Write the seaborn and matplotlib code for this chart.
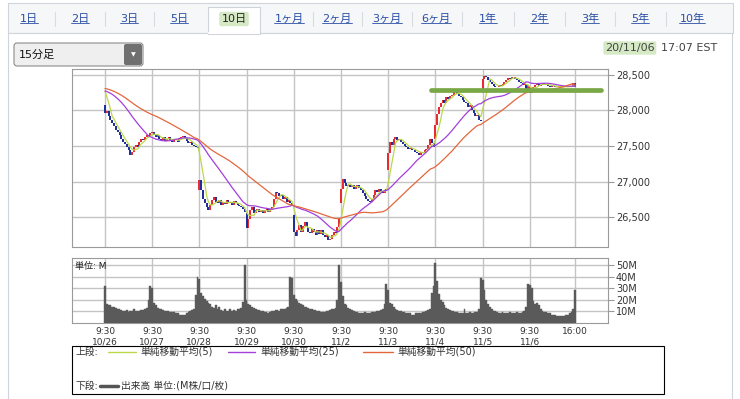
import numpy as np
import pandas as pd
import matplotlib
matplotlib.use("Agg")
import matplotlib.pyplot as plt
import seaborn as sns
from matplotlib.patches import Rectangle, FancyBboxPatch

# ---- data (15-min bars, 26 per session) ----
days = ["10/26", "10/27", "10/28", "10/29", "10/30", "11/2", "11/3", "11/4", "11/5", "11/6"]
day_open = [28080, 27680, 26880, 26560, 26540, 26700, 27160, 27600, 28260, 28330]

close_1026 = [27960, 27990, 27920, 27870, 27820, 27780, 27730, 27690, 27650, 27600, 27560, 27530, 27480,
              27450, 27380, 27420, 27480, 27520, 27490, 27560, 27600, 27580, 27630, 27660, 27640, 27680]
close_1027 = [27690, 27660, 27620, 27650, 27600, 27580, 27620, 27570, 27600, 27630, 27580, 27560, 27600,
              27590, 27560, 27600, 27620, 27640, 27610, 27570, 27540, 27560, 27520, 27500, 27480, 27470]
close_1028 = [27020, 26880, 26760, 26700, 26640, 26600, 26680, 26740, 26780, 26720, 26700, 26740, 26680,
              26720, 26690, 26740, 26700, 26720, 26680, 26730, 26700, 26680, 26660, 26640, 26620, 26580]
close_1029 = [26350, 26480, 26600, 26640, 26560, 26600, 26620, 26580, 26600, 26560, 26600, 26620, 26580,
              26620, 26640, 26760, 26860, 26840, 26800, 26820, 26760, 26780, 26720, 26740, 26700, 26680]
close_1030 = [26300, 26240, 26320, 26400, 26300, 26380, 26440, 26360, 26300, 26280, 26340, 26300, 26250,
              26320, 26270, 26330, 26250, 26220, 26260, 26180, 26200, 26260, 26300, 26280, 26360, 26480]
close_1102 = [26900, 27040, 26980, 26940, 26960, 26920, 26950, 26900, 26930, 26950, 26910, 26880, 26840,
              26800, 26760, 26730, 26720, 26760, 26820, 26880, 26850, 26900, 26860, 26840, 26880, 26900]
close_1103 = [27400, 27560, 27520, 27600, 27620, 27580, 27600, 27560, 27530, 27500, 27480, 27460, 27470,
              27440, 27450, 27420, 27400, 27380, 27420, 27400, 27440, 27460, 27520, 27600, 27540, 27480]
close_1104 = [27800, 27950, 28050, 28100, 28150, 28100, 28180, 28160, 28200, 28220, 28250, 28270, 28230,
              28200, 28180, 28150, 28120, 28100, 28050, 28070, 28000, 27960, 27920, 27940, 27870, 27850]
close_1105 = [28440, 28480, 28460, 28420, 28400, 28370, 28340, 28320, 28330, 28350, 28340, 28370, 28400,
              28430, 28450, 28440, 28470, 28460, 28440, 28420, 28400, 28380, 28360, 28370, 28300, 28360]
close_1106 = [28240, 28300, 28330, 28360, 28380, 28340, 28360, 28380, 28350, 28370, 28340, 28330, 28350,
              28340, 28330, 28320, 28340, 28320, 28330, 28320, 28340, 28330, 28340, 28320, 28380, 28330]

# closes of the bars before 10/26 (only used to start the moving averages)
prior_close = [28250, 28280, 28300, 28320, 28290, 28310, 28340, 28360, 28330, 28350, 28370, 28380,
               28360, 28350, 28370, 28390, 28400, 28380, 28360, 28350, 28370, 28360, 28340,
               28300, 28260, 28220, 28200, 28180, 28210, 28240, 28260, 28230, 28250, 28270, 28290,
               28280, 28300, 28310, 28290, 28300, 28320, 28330, 28310, 28320, 28340, 28350, 28330,
               28340, 28330]

# volume, millions
vol_1026 = [32, 16, 15, 15, 14, 14, 13, 12, 12, 11, 10, 10, 11, 9, 10, 10, 12, 10, 10, 10, 11, 11, 12, 13, 20, 32]
vol_1027 = [30, 17, 15, 13, 12, 12, 11, 10, 10, 10, 9, 9, 9, 8, 8, 7, 7, 7, 7, 8, 9, 10, 11, 12, 24, 40]
vol_1028 = [38, 26, 23, 21, 19, 17, 16, 14, 13, 15, 12, 14, 11, 10, 12, 10, 10, 12, 10, 11, 10, 12, 12, 13, 18, 50]
vol_1029 = [20, 16, 15, 14, 13, 12, 11, 11, 10, 10, 9, 9, 8, 9, 10, 10, 11, 11, 10, 12, 12, 12, 13, 14, 40, 39]
vol_1030 = [24, 21, 19, 17, 16, 15, 14, 14, 13, 12, 12, 11, 11, 10, 10, 9, 9, 9, 10, 10, 11, 12, 12, 13, 20, 50]
vol_1102 = [35, 23, 16, 15, 13, 12, 11, 10, 9, 9, 8, 8, 8, 9, 8, 8, 8, 9, 9, 9, 10, 10, 11, 12, 16, 34]
vol_1103 = [28, 17, 16, 14, 12, 11, 10, 10, 9, 9, 8, 8, 8, 7, 7, 8, 8, 8, 8, 9, 9, 10, 11, 12, 26, 32]
vol_1104 = [52, 36, 25, 20, 18, 15, 13, 12, 11, 10, 10, 9, 9, 8, 8, 8, 12, 8, 8, 9, 8, 8, 9, 9, 12, 39]
vol_1105 = [37, 28, 20, 16, 14, 12, 10, 10, 9, 8, 8, 9, 8, 8, 8, 9, 8, 8, 8, 9, 8, 8, 9, 10, 14, 34]
vol_1106 = [33, 30, 19, 16, 17, 15, 12, 10, 9, 9, 8, 8, 7, 7, 7, 6, 6, 6, 6, 6, 7, 7, 8, 9, 12, 28]

# user-drawn horizontal line
trend_level = 28285
trend_from, trend_to = 6.91, 10.51

price_ticks = [26500, 27000, 27500, 28000, 28500]
vol_ticks = [10, 20, 30, 40, 50]
tab_labels = ["1日", "2日", "3日", "5日", "10日", "1ヶ月", "2ヶ月", "3ヶ月", "6ヶ月", "1年", "2年", "3年", "5年", "10年"]
tab_x = [29, 80, 129, 179, 234, 289, 337, 387, 436, 488, 539, 590, 640, 692]
active_tab = 4

# ---- assemble ----
closes_by_day = [close_1026, close_1027, close_1028, close_1029, close_1030,
                 close_1102, close_1103, close_1104, close_1105, close_1106]
vols_by_day = [vol_1026, vol_1027, vol_1028, vol_1029, vol_1030,
               vol_1102, vol_1103, vol_1104, vol_1105, vol_1106]
rows = []
prev = None
for d, (cl, vo) in enumerate(zip(closes_by_day, vols_by_day)):
    for i, (c, v) in enumerate(zip(cl, vo)):
        o = day_open[d] if i == 0 else prev
        rows.append({"x": d + i / 26, "open": o, "close": c, "vol": v})
        prev = c
df = pd.DataFrame(rows)

allc = pd.Series(prior_close + list(df["close"]))
n = len(prior_close)
for w in (5, 25, 50):
    df[f"sma{w}"] = allc.rolling(w).mean().iloc[n:].to_numpy()

sns.set_style("white")
plt.rcParams['font.family'] = ['DejaVu Sans', 'Noto Sans CJK JP']

W, H = 740, 399
fig = plt.figure(figsize=(W / 100, H / 100), dpi=100)

# background / UI overlay in pixel coordinates
bg = fig.add_axes([0, 0, 1, 1], zorder=0)
bg.set_xlim(0, W)
bg.set_ylim(H, 0)
bg.axis("off")
frame = "#cfd4da"
bg.add_patch(Rectangle((8, 3), 725, 30, facecolor="#f6f7f9", edgecolor=frame, lw=0.8))
bg.add_patch(Rectangle((8, 33), 724, 372, facecolor="white", edgecolor=frame, lw=0.8))
bg.add_patch(Rectangle((208, 7), 52, 27, facecolor="white", edgecolor=frame, lw=0.8))
bg.plot([208.6, 259.4], [33, 33], color="white", lw=1.5)

tab_texts = []
for k, (lab, tx) in enumerate(zip(tab_labels, tab_x)):
    if k == active_tab:
        bg.text(tx, 19, lab, ha="center", va="center", fontsize=8, color="#222222",
                bbox=dict(facecolor="#d4e9c4", edgecolor="none", boxstyle="round,pad=0.2"))
    else:
        tab_texts.append(bg.text(tx, 19, lab, ha="center", va="center", fontsize=8, color="#2a4ea6"))
    if 0 < k and k != active_tab and k != active_tab + 1:
        sx = (tab_x[k - 1] + tx) / 2
        bg.plot([sx, sx], [12, 26], color="#d8dbe0", lw=0.8)

# dropdown
bg.add_patch(FancyBboxPatch((14, 43), 129, 23, boxstyle="round,pad=0,rounding_size=3",
                            facecolor="#efefef", edgecolor="#8c8c8c", lw=0.8))
bg.add_patch(FancyBboxPatch((124, 44), 18, 21, boxstyle="round,pad=0,rounding_size=2",
                            facecolor="#707070", edgecolor="none"))
bg.text(133, 54.5, "▼", ha="center", va="center", fontsize=4.5, color="white")
bg.text(19, 55, "15分足", ha="left", va="center", fontsize=8, color="#111111")

# timestamp
bg.text(605, 48, "20/11/06", ha="left", va="center", fontsize=8, color="#444444",
        bbox=dict(facecolor="#d4e9c4", edgecolor="none", boxstyle="round,pad=0.15"))
bg.text(661, 48, "17:07 EST", ha="left", va="center", fontsize=8, color="#444444")

# legend box
sma_colors = {5: "#bcd84a", 25: "#a33fdc", 50: "#e3673c"}
bg.add_patch(Rectangle((71.7, 346), 592.6, 48, facecolor="white", edgecolor="black", lw=0.8))
bg.text(76, 352, "上段:", fontsize=7, va="center", color="#333333")
for (w, x0, x1, tx) in [(5, 108, 136, 140), (25, 228, 255, 260), (50, 363, 393, 397)]:
    bg.plot([x0, x1], [352, 352], color=sma_colors[w], lw=1.0)
    bg.text(tx, 352, f"単純移動平均({w})", fontsize=7, va="center", color="#333333")
bg.text(76, 386, "下段:", fontsize=7, va="center", color="#333333")
bg.plot([100, 118], [386, 386], color="#555555", lw=2.5)
bg.text(121, 386, "出来高 単位:(M株/口/枚)", fontsize=7, va="center", color="#333333")

# ---- charts ----
L, R = 71.7, 607.7
ax = fig.add_axes([L / W, 1 - 247.3 / H, (R - L) / W, (247.3 - 69) / H], zorder=2)
axv = fig.add_axes([L / W, 1 - 322.7 / H, (R - L) / W, (322.7 - 257.7) / H], zorder=2)

xlim = (-0.705, 10.65)
day_ticks = list(range(len(days))) + [9 + 25 / 26]
grid_c = "#c4c4c4"
for a in (ax, axv):
    a.set_facecolor("white")
    a.set_xlim(*xlim)
    a.set_xticks(day_ticks)
    a.grid(True, color=grid_c, lw=1.0)
    a.set_axisbelow(True)
    for s in a.spines.values():
        s.set_color("#9a9a9a")
        s.set_linewidth(0.8)
    a.yaxis.tick_right()
    a.tick_params(axis="y", length=4, width=0.8, color="#9a9a9a", labelsize=7,
                  labelcolor="#333333", pad=2)
    a.tick_params(axis="x", length=0)

# candles
up = df["close"] >= df["open"]
lo = np.minimum(df["open"], df["close"])
hi = np.maximum(df["open"], df["close"])
ax.vlines(df["x"][up], lo[up], hi[up], color="#e8262e", lw=1.4, zorder=3)
ax.vlines(df["x"][~up], lo[~up], hi[~up], color="#1b2a9a", lw=1.4, zorder=3)

for w in (5, 25, 50):
    sns.lineplot(x=df["x"], y=df[f"sma{w}"], ax=ax, color=sma_colors[w], lw=0.9,
                 legend=False, zorder=4)

ax.plot([trend_from, trend_to], [trend_level, trend_level], color="#7aa846", lw=3.4,
        solid_capstyle="round", zorder=5, clip_on=False)

ax.set_ylim(26081, 28577)
ax.set_yticks(price_ticks)
ax.set_yticklabels([f"{t:,}" for t in price_ticks])
ax.set_xticklabels([])
ax.set_xlabel("")
ax.set_ylabel("")

# volume
axv.bar(df["x"], df["vol"], width=1 / 26, color="#5a5a5a", edgecolor="#5a5a5a", lw=0.3, zorder=3)
axv.set_ylim(0, 56.5)
axv.set_yticks(vol_ticks)
axv.set_yticklabels([f"{t}M" for t in vol_ticks])
axv.set_xticklabels([f"9:30\n{d}" for d in days] + ["16:00"], fontsize=6.5, color="#333333",
                    linespacing=1.3, va="top")
axv.tick_params(axis="x", pad=3)
axv.text(0.006, 0.86, "単位: M", transform=axv.transAxes, fontsize=6.5, va="center",
         color="#222222")

# underline the link tabs
fig.canvas.draw()
rend = fig.canvas.get_renderer()
inv = bg.transData.inverted()
for t in tab_texts:
    bb = t.get_window_extent(rend)
    (x0, ya), (x1, yb) = inv.transform([(bb.x0, bb.y0), (bb.x1, bb.y1)])
    yu = max(ya, yb) - 1
    bg.plot([x0, x1], [yu, yu], color="#2a4ea6", lw=0.6)

fig.savefig("out.png", dpi=100)
